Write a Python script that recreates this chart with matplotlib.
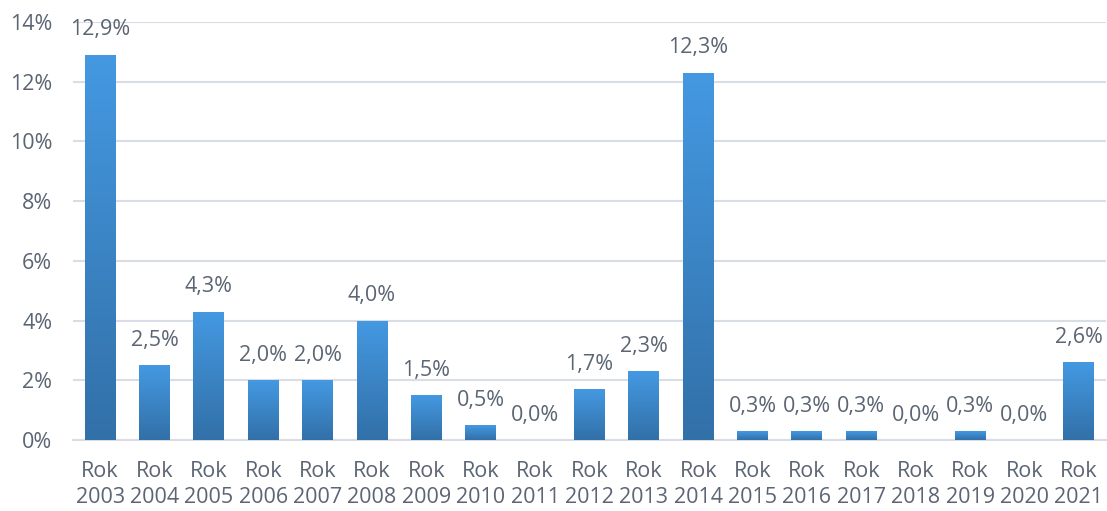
import matplotlib
matplotlib.use("Agg")
import matplotlib.pyplot as plt
import numpy as np
from matplotlib.colors import LinearSegmentedColormap

years = [str(y) for y in range(2003, 2022)]
categories = ["Rok\n" + y for y in years]
values = [12.9, 2.5, 4.3, 2.0, 2.0, 4.0, 1.5, 0.5, 0.0, 1.7, 2.3, 12.3,
          0.3, 0.3, 0.3, 0.0, 0.3, 0.0, 2.6]
yticks = [0, 2, 4, 6, 8, 10, 12, 14]

plt.rcParams['font.family'] = ['Open Sans', 'DejaVu Sans']
txt = '#5B6573'
fs = 15.5

fig = plt.figure(figsize=(11.07, 5.11), dpi=100)
ax = fig.add_axes([73/1107, 1-440/511, (1106-73)/1107, (440-22)/511])

x = np.arange(len(values))
bars = ax.bar(x, values, width=0.57, color='none', edgecolor='none', zorder=3)
cmap = LinearSegmentedColormap.from_list('g', ['#3270A8', '#4499E2'])
grad = np.linspace(0, 1, 256).reshape(-1, 1)
for b in bars:
    h = b.get_height()
    if h <= 0:
        continue
    x0 = b.get_x(); w = b.get_width()
    im = ax.imshow(grad, extent=[x0, x0 + w, 0, h], origin='lower', cmap=cmap,
                   aspect='auto', zorder=3)
    im.set_clip_path(b)

for xi, v in zip(x, values):
    ax.annotate(f"{v:.1f}%".replace('.', ','), (xi, v), xytext=(0, 18),
                textcoords='offset points', ha='center', va='center',
                fontsize=fs, color=txt)

ax.set_xlim(-0.5, len(values) - 0.5)
ax.set_ylim(0, 14)
ax.set_yticks(yticks)
ax.set_yticklabels([f"{t}%" for t in yticks])
ax.set_xticks(x)
ax.set_xticklabels(categories, linespacing=1.32)
ax.tick_params(axis='both', length=0, labelsize=fs, labelcolor=txt)
ax.tick_params(axis='y', pad=15)
ax.tick_params(axis='x', pad=15)
ax.grid(axis='y', color='#D9DEE6', linewidth=1.5, zorder=0)
ax.set_axisbelow(True)
for s in ['top', 'right', 'left']:
    ax.spines[s].set_visible(False)
ax.spines['bottom'].set_color('#D9DEE6')
ax.spines['bottom'].set_linewidth(1.5)

fig.savefig('out.png', dpi=100)
